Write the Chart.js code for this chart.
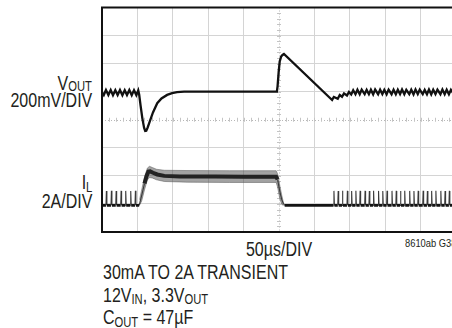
<!DOCTYPE html>
<html>
<head>
<meta charset="utf-8">
<script src="https://cdn.jsdelivr.net/npm/chart.js@4.4.1/dist/chart.umd.min.js"></script>
<style>
  html, body { margin: 0; padding: 0; width: 452px; height: 328px; overflow: hidden; background: #fff; }
  #scope { position: absolute; left: 100px; top: 5px; }
  .lbl { position: absolute; font-family: "Liberation Sans", Arial, sans-serif; font-size: 20px; line-height: 20px;
         color: #231f20; white-space: nowrap; }
  .r { right: 360px; text-align: right; transform: scaleX(0.8); transform-origin: right center; }
  .l { transform: scaleX(0.8); transform-origin: left center; }
  .c { left: 179px; width: 200px; text-align: center; transform: scaleX(0.8); transform-origin: center center; }
  .sub { font-size: 14px; position: relative; }
  .tag { font-size: 11px; line-height: 11px; transform: scaleX(0.85); transform-origin: left center; }
</style>
</head>
<body>
<canvas id="scope" width="360" height="230"></canvas>

<div class="lbl r" style="top:72.6px">V<span class="sub" style="top:1px">OUT</span></div>
<div class="lbl r" style="top:89.6px">200mV/DIV</div>
<div class="lbl r" style="top:171.6px">I<span class="sub" style="top:3px">L</span></div>
<div class="lbl r" style="top:191.1px">2A/DIV</div>
<div class="lbl c" style="top:238.6px">50µs/DIV</div>
<div class="lbl tag" style="left:405px; top:238.2px">8610ab G38</div>
<div class="lbl l" style="left:103px; top:262.4px">30mA TO 2A TRANSIENT</div>
<div class="lbl l" style="left:103px; top:284.6px">12V<span class="sub" style="top:2.5px">IN</span>, 3.3V<span class="sub" style="top:2.5px">OUT</span></div>
<div class="lbl l" style="left:103px; top:306.6px">C<span class="sub" style="top:3px">OUT</span> = 47µF</div>

<script>
// 50µs/DIV over 10 divisions; VOUT 200mV/DIV (AC, about 3.3V), IL 2A/DIV, 8 divisions tall
const TIME_US = [0, 500];
const VOUT_MV = [-1000, 600];
const IL_AMPS = [-2, 14];

// VOUT: burst ripple before the load step
const voutPreT  = [0, 2.5, 5.6, 9, 12.3, 15.5, 18.8, 22.1, 25.4, 28.8, 32.1, 35.3, 38.6, 42, 45.2, 48.5, 51.2];
const voutPreMv = [-6, -24, 12, -24, 12, -25, 11, -24, 12, -25, 11, -24, 12, -25, 11, -24, 10];

// VOUT: droop on the 2A step, flat while loaded, overshoot on release
const voutStepT  = [52.5, 54.5, 57, 59.5, 61, 62.5, 64.5, 68, 72, 78, 84, 92, 99, 106, 116,
                    140, 170, 200, 230, 247, 248, 249.5, 251, 253, 255, 257, 325];
const voutStepMv = [-20, -100, -190, -258, -280, -278, -255, -204, -148, -82, -48, -23, -11, -3, 0,
                    1, 0, 1, 0, 0, 40, 140, 215, 250, 262, 269, -59];

// VOUT: burst ripple coming back after release
const voutPostT  = [327.5, 333, 335.8, 339, 341.8, 346, 348.8, 352, 354.8, 358,
                    360.8, 364, 366.8, 371, 373.8, 377, 379.8, 383, 385.8, 390,
                    392.8, 396, 398.8, 402, 404.8, 409, 411.8, 415, 417.8, 421,
                    423.8, 427, 429.8, 434, 436.8, 440, 442.8, 446, 448.8, 453,
                    455.8, 459, 461.8, 465, 467.8, 471, 473.8, 478, 480.8, 484,
                    486.8, 490, 492.8, 497, 499.8];
const voutPostMv = [-38, -50, -24, -36, -12, -27, -2, -20, 10, -18,
                    14, -18, 15, -17, 13, -18, 14, -19, 15, -18,
                    14, -17, 13, -18, 15, -18, 14, -19, 14, -17,
                    15, -18, 13, -18, 14, -19, 15, -17, 14, -18,
                    13, -18, 15, -19, 14, -17, 14, -18, 15, -18,
                    14, -19, 13, -18, 14];

// IL: zero-current level and the burst pulses on either side of the step
const ilBaseA = -0.1;
const ilPreBurstT = [5.6, 12.7, 19.4, 26.4, 32.9, 40, 46.6];
const ilPreBurstA = [0.92, 0.94, 0.92, 0.93, 0.93, 0.92, 0.94];
const ilPostBurstT = [327, 333, 339, 346, 352, 358, 364, 371, 377, 383,
                      390, 396, 402, 409, 415, 421, 427, 434, 440, 446,
                      453, 459, 465, 471, 478, 484, 490, 497];
const ilPostBurstA = [0.93, 0.92, 0.94, 0.93, 0.92, 0.94, 0.93, 0.93, 0.92, 0.94,
                      0.93, 0.92, 0.94, 0.93, 0.93, 0.92, 0.94, 0.93, 0.92, 0.93,
                      0.94, 0.92, 0.93, 0.94, 0.93, 0.92, 0.93, 0.94];

// IL: average current through the 2A step
const ilStepT = [52.5, 56, 60, 63, 65.5, 68, 72, 78, 88, 110, 160, 200, 246, 248, 250, 252, 254, 256, 258];
const ilStepA = [-0.1, 0.6, 1.45, 2.0, 2.3, 2.32, 2.22, 2.1, 2.0, 1.96, 1.95, 1.94, 1.93, 1.75, 1.2, 0.7, 0.3, 0.05, -0.1];

// IL: ripple envelope while in continuous conduction
const ilRippleT   = [53, 56, 60, 64, 67, 71, 77, 88, 120, 180, 246, 248, 251, 254, 256.5];
const ilRippleHiA = [0.3, 1.0, 1.9, 2.55, 2.68, 2.6, 2.47, 2.4, 2.38, 2.37, 2.37, 2.15, 1.35, 0.6, 0.05];
const ilRippleLoA = [-0.1, 0.2, 1.0, 1.7, 1.88, 1.85, 1.72, 1.6, 1.55, 1.53, 1.53, 1.2, 0.4, -0.05, -0.1];

function pairs(xs, ys) {
  return xs.map((x, i) => ({ x: x, y: ys[i] }));
}

// each burst pulse: sharp rise to its peak and straight back to zero
function burst(ts, peaks) {
  const pts = [];
  ts.forEach((t, i) => {
    pts.push({ x: t, y: ilBaseA }, { x: t + 0.6, y: peaks[i] }, { x: t + 1.3, y: ilBaseA });
  });
  return pts;
}

const voutPoints = [].concat(pairs(voutPreT, voutPreMv), pairs(voutStepT, voutStepMv), pairs(voutPostT, voutPostMv));
const ilPoints = [].concat([{ x: TIME_US[0], y: ilBaseA }], burst(ilPreBurstT, ilPreBurstA),
                           pairs(ilStepT, ilStepA), burst(ilPostBurstT, ilPostBurstA),
                           [{ x: TIME_US[1], y: ilBaseA }]);

const CENTER_T = (TIME_US[0] + TIME_US[1]) / 2;
const CENTER_MV = (VOUT_MV[0] + VOUT_MV[1]) / 2;

// graticule: dotted centre cross with minor ticks, heavy outer frame
const graticule = {
  id: 'graticule',
  beforeDatasetsDraw(chart) {
    const { ctx, chartArea: a, scales } = chart;
    const cx = scales.x.getPixelForValue(CENTER_T);
    const cy = scales.yV.getPixelForValue(CENTER_MV);
    ctx.save();
    ctx.strokeStyle = '#b8b8b8';
    ctx.lineWidth = 1;
    ctx.setLineDash([1, 2]);
    ctx.beginPath();
    ctx.moveTo(a.left, Math.round(cy) + 0.5);
    ctx.lineTo(a.right, Math.round(cy) + 0.5);
    ctx.moveTo(Math.round(cx) + 0.5, a.top);
    ctx.lineTo(Math.round(cx) + 0.5, a.bottom);
    ctx.stroke();
    ctx.setLineDash([]);
    ctx.strokeStyle = '#c4c4c4';
    ctx.beginPath();
    const dx = (a.right - a.left) / 50;
    for (let i = 1; i < 50; i++) {
      const x = Math.round(a.left + i * dx) + 0.5;
      ctx.moveTo(x, cy - 2);
      ctx.lineTo(x, cy + 2);
    }
    const dy = (a.bottom - a.top) / 40;
    for (let j = 1; j < 40; j++) {
      const y = Math.round(a.top + j * dy) + 0.5;
      ctx.moveTo(cx - 2, y);
      ctx.lineTo(cx + 2, y);
    }
    ctx.stroke();
    ctx.restore();
  },
  afterDatasetsDraw(chart) {
    const { ctx, chartArea: a } = chart;
    ctx.save();
    ctx.strokeStyle = '#111';
    ctx.lineWidth = 2;
    ctx.strokeRect(a.left, a.top, a.right - a.left, a.bottom - a.top);
    ctx.restore();
  }
};

const gridColor = (centre) => (c) => (Math.abs(c.tick.value - centre) < 1e-6 ? 'rgba(0,0,0,0)' : '#d4d4d4');

// flat zero-current stretches heavy, pulse edges thin, loaded stretch as a thick ripple core
const atBase = (s) => s.p0.parsed.y === ilBaseA && s.p1.parsed.y === ilBaseA;
const loaded = (s) => s.p0.parsed.y > 1.2 && s.p1.parsed.y > 1.2;

new Chart(document.getElementById('scope'), {
  type: 'line',
  data: {
    datasets: [
      {
        label: 'IL',
        data: ilPoints,
        yAxisID: 'yI',
        borderColor: '#141414',
        borderWidth: 1.8,
        segment: {
          borderWidth: (s) => (atBase(s) ? 2.8 : loaded(s) ? 4 : 1.1),
          borderColor: (s) => (atBase(s) ? '#141414' : loaded(s) ? '#222' : '#3a3a3a')
        },
        pointRadius: 0,
        tension: 0,
        fill: false
      },
      {
        label: 'VOUT',
        data: voutPoints,
        yAxisID: 'yV',
        borderColor: '#111',
        borderWidth: 2.3,
        pointRadius: 0,
        tension: 0,
        fill: false
      },
      {
        label: 'IL ripple high',
        data: pairs(ilRippleT, ilRippleHiA),
        yAxisID: 'yI',
        borderColor: 'rgba(90,90,90,0.5)',
        borderWidth: 1,
        backgroundColor: 'rgba(70,70,70,0.5)',
        pointRadius: 0,
        tension: 0,
        fill: '+1'
      },
      {
        label: 'IL ripple low',
        data: pairs(ilRippleT, ilRippleLoA),
        yAxisID: 'yI',
        borderColor: 'rgba(90,90,90,0.5)',
        borderWidth: 1,
        pointRadius: 0,
        tension: 0,
        fill: false
      }
    ]
  },
  options: {
    responsive: false,
    animation: false,
    layout: { padding: { left: 2, top: 2.5, right: 4, bottom: 3 } },
    plugins: { legend: { display: false }, tooltip: { enabled: false } },
    scales: {
      x: {
        type: 'linear',
        min: TIME_US[0],
        max: TIME_US[1],
        ticks: { display: false, stepSize: 50 },
        grid: { color: gridColor(CENTER_T), lineWidth: 1, drawTicks: false },
        border: { display: false }
      },
      yV: {
        type: 'linear',
        position: 'left',
        min: VOUT_MV[0],
        max: VOUT_MV[1],
        ticks: { display: false, stepSize: 200 },
        grid: { color: gridColor(CENTER_MV), lineWidth: 1, drawTicks: false },
        border: { display: false }
      },
      yI: {
        type: 'linear',
        display: false,
        min: IL_AMPS[0],
        max: IL_AMPS[1]
      }
    }
  },
  plugins: [graticule]
});
</script>
</body>
</html>
